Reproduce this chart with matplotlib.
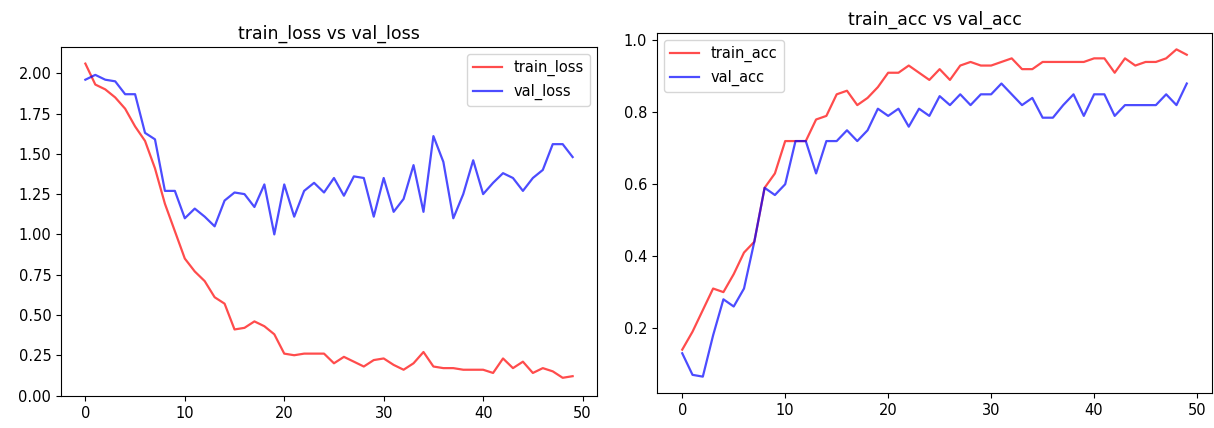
import matplotlib
matplotlib.use("Agg")
import matplotlib.pyplot as plt
import numpy as np

epochs = list(range(50))

train_loss = [2.06, 1.93, 1.90, 1.85, 1.78, 1.67, 1.58, 1.41, 1.19, 1.02,
              0.85, 0.77, 0.71, 0.61, 0.57, 0.41, 0.42, 0.46, 0.43, 0.38,
              0.26, 0.25, 0.26, 0.26, 0.26, 0.20, 0.24, 0.21, 0.18, 0.22,
              0.23, 0.19, 0.16, 0.20, 0.27, 0.18, 0.17, 0.17, 0.16, 0.16,
              0.16, 0.14, 0.23, 0.17, 0.21, 0.14, 0.17, 0.15, 0.11, 0.12]
val_loss = [1.96, 1.99, 1.96, 1.95, 1.87, 1.87, 1.63, 1.59, 1.27, 1.27,
            1.10, 1.16, 1.11, 1.05, 1.21, 1.26, 1.25, 1.17, 1.31, 1.00,
            1.31, 1.11, 1.27, 1.32, 1.26, 1.35, 1.24, 1.36, 1.35, 1.11,
            1.35, 1.14, 1.22, 1.43, 1.14, 1.61, 1.45, 1.10, 1.25, 1.46,
            1.25, 1.32, 1.38, 1.35, 1.27, 1.35, 1.40, 1.56, 1.56, 1.48]

train_acc = [0.14, 0.19, 0.25, 0.31, 0.30, 0.35, 0.41, 0.44, 0.59, 0.63,
             0.72, 0.72, 0.72, 0.78, 0.79, 0.85, 0.86, 0.82, 0.84, 0.87,
             0.91, 0.91, 0.93, 0.91, 0.89, 0.92, 0.89, 0.93, 0.94, 0.93,
             0.93, 0.94, 0.95, 0.92, 0.92, 0.94, 0.94, 0.94, 0.94, 0.94,
             0.95, 0.95, 0.91, 0.95, 0.93, 0.94, 0.94, 0.95, 0.975, 0.96]
val_acc = [0.13, 0.07, 0.065, 0.18, 0.28, 0.26, 0.31, 0.44, 0.59, 0.57,
           0.60, 0.72, 0.72, 0.63, 0.72, 0.72, 0.75, 0.72, 0.75, 0.81,
           0.79, 0.81, 0.76, 0.81, 0.79, 0.845, 0.82, 0.85, 0.82, 0.85,
           0.85, 0.88, 0.85, 0.82, 0.84, 0.785, 0.785, 0.82, 0.85, 0.79,
           0.85, 0.85, 0.79, 0.82, 0.82, 0.82, 0.82, 0.85, 0.82, 0.88]

W, H = 1214, 428
fig = plt.figure(figsize=(W / 100, H / 100), dpi=100)

lw = 1.6
fs_tick = 10.5
fs_title = 12.5

ax1 = fig.add_axes([61 / W, (H - 396) / H, 536 / W, 349 / H])
ax1.plot(epochs, train_loss, color="red", alpha=0.7, lw=lw, label="train_loss")
ax1.plot(epochs, val_loss, color="blue", alpha=0.7, lw=lw, label="val_loss")
ax1.set_title("train_loss vs val_loss", fontsize=fs_title)
ax1.legend(loc="upper right", fontsize=fs_tick)
ax1.tick_params(labelsize=fs_tick)
ax1.set_xticks([0, 10, 20, 30, 40, 50])
ax1.set_xlim(-2.45, 51.45)
ax1.set_ylim(-0.003, 2.163)
ax1.set_yticks([0.0, 0.25, 0.5, 0.75, 1.0, 1.25, 1.5, 1.75, 2.0])

ax2 = fig.add_axes([657 / W, (H - 393) / H, 555 / W, 360 / H])
ax2.plot(epochs, train_acc, color="red", alpha=0.7, lw=lw, label="train_acc")
ax2.plot(epochs, val_acc, color="blue", alpha=0.7, lw=lw, label="val_acc")
ax2.set_title("train_acc vs val_acc", fontsize=fs_title)
ax2.legend(loc="upper left", fontsize=fs_tick)
ax2.tick_params(labelsize=fs_tick)
ax2.set_xticks([0, 10, 20, 30, 40, 50])

fig.savefig("out.png", dpi=100)
